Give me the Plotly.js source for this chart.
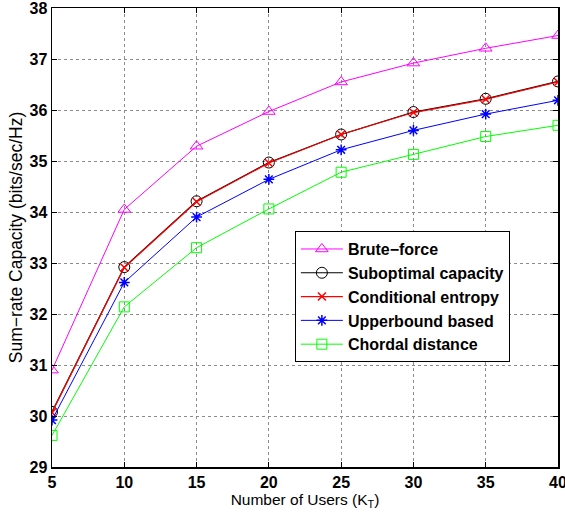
<!DOCTYPE html>
<html><head><meta charset="utf-8">
<script src="https://cdn.plot.ly/plotly-3.0.1.min.js"></script>
<style>html,body{margin:0;padding:0;background:#fff}#chart{width:565px;height:518px}</style>
</head><body><div id="chart"></div>
<script>
const users = [5, 10, 15, 20, 25, 30, 35, 40];
const bruteForce = [30.90, 34.05, 35.29, 35.97, 36.55, 36.92, 37.21, 37.46];
const suboptimal = [30.08, 32.92, 34.21, 34.97, 35.52, 35.96, 36.22, 36.56];
const conditional = [30.07, 32.91, 34.20, 34.96, 35.52, 35.95, 36.21, 36.55];
const upperbound = [29.92, 32.62, 33.90, 34.64, 35.22, 35.60, 35.92, 36.19];
const chordal = [29.62, 32.14, 33.30, 34.06, 34.78, 35.13, 35.48, 35.70];
const names = ['Brute\u2212force', 'Suboptimal capacity', 'Conditional entropy', 'Upperbound based', 'Chordal distance'];
const xTicks = [5, 10, 15, 20, 25, 30, 35, 40];
const yTicks = [29, 30, 31, 32, 33, 34, 35, 36, 37, 38];

const traces = [
  {x: users, y: bruteForce, name: names[0], mode: 'lines+markers',
   line: {color: '#ff00ff', width: 1}, marker: {symbol: 'triangle-up-open', size: 11, color: '#ff00ff', line: {width: 1}}},
  {x: users, y: suboptimal, name: names[1], mode: 'lines+markers',
   line: {color: '#000000', width: 1.2}, marker: {symbol: 'circle-open', size: 11, color: '#000000', line: {width: 1}}},
  {x: users, y: conditional, name: names[2], mode: 'lines+markers',
   line: {color: '#ff0000', width: 1.2}, marker: {symbol: 'x-thin-open', size: 8, color: '#ff0000', line: {width: 1.5, color: '#ff0000'}}},
  {x: users, y: upperbound, name: names[3], mode: 'lines+markers',
   line: {color: '#0000ff', width: 1}, marker: {symbol: 'asterisk-open', size: 9, color: '#0000ff', line: {width: 1.5, color: '#0000ff'}}},
  {x: users, y: chordal, name: names[4], mode: 'lines+markers',
   line: {color: '#00ff00', width: 1}, marker: {symbol: 'square-open', size: 10, color: '#00ff00', line: {width: 1}}}
];

const axisCommon = {
  showline: true, linecolor: '#000', linewidth: 1.5, mirror: 'allticks',
  ticks: 'inside', ticklen: 5, tickcolor: '#000', tickwidth: 1,
  showgrid: true, gridcolor: '#8c8c8c', griddash: 'dot', gridwidth: 1,
  zeroline: false, ticklabeloverflow: 'allow',
  tickfont: {family: 'Arial, "Liberation Sans", sans-serif', size: 16, color: '#000', weight: 'bold'}
};

const layout = {
  width: 565, height: 518,
  margin: {l: 52, r: 7, t: 8, b: 51},
  paper_bgcolor: '#fff', plot_bgcolor: '#fff',
  font: {family: 'Arial, "Liberation Sans", sans-serif', color: '#000'},
  showlegend: true,
  xaxis: Object.assign({}, axisCommon, {
    range: [5, 40], tickmode: 'array', tickvals: xTicks, ticktext: xTicks.map(String),
    title: {text: 'Number of Users (K<sub>T</sub>)', font: {size: 15.5, color: '#000'}, standoff: 2}
  }),
  yaxis: Object.assign({}, axisCommon, {
    range: [29, 38], tickmode: 'array', tickvals: yTicks, ticktext: yTicks.map(String),
    title: {text: 'Sum\u2212rate Capacity (bits/sec/Hz)', font: {size: 17.5, color: '#000'}, standoff: 2}
  }),
  legend: {
    x: 0.480, y: 0.514, xanchor: 'left', yanchor: 'top',
    bgcolor: '#fff', bordercolor: '#000', borderwidth: 1,
    font: {size: 16, color: '#000', weight: 'bold', family: 'Arial, "Liberation Sans", sans-serif'},
    tracegroupgap: 0, itemwidth: 42
  }
};

Plotly.newPlot('chart', traces, layout, {displayModeBar: false, staticPlot: true});
</script>
</body></html>
